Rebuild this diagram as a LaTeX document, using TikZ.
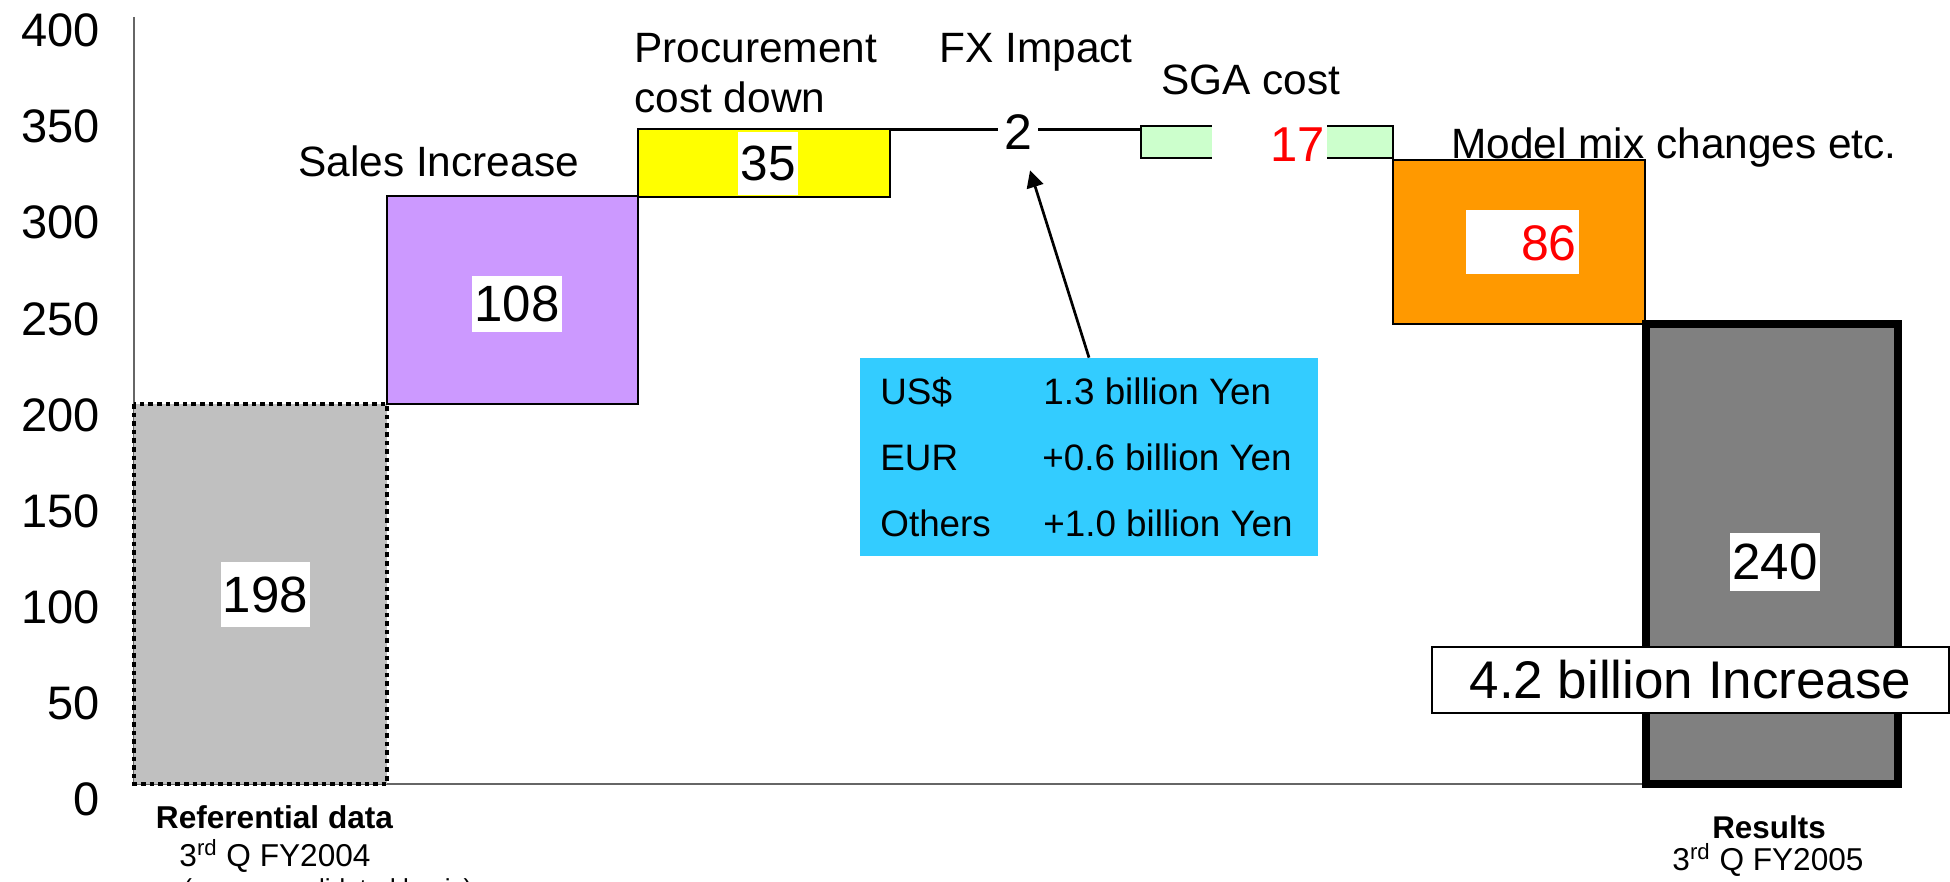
\documentclass[tikz,border=0pt]{standalone}
\usepackage{fontspec}
\setmainfont{Liberation Sans}
\usetikzlibrary{arrows.meta}

\definecolor{refgray}{HTML}{C0C0C0}
\definecolor{salescol}{HTML}{CC99FF}
\definecolor{procol}{HTML}{FFFF00}
\definecolor{sgacol}{HTML}{CCFFCC}
\definecolor{mixcol}{HTML}{FF9900}
\definecolor{resgray}{HTML}{808080}
\definecolor{fxcol}{HTML}{33CCFF}
\definecolor{axiscol}{HTML}{666666}

\tikzset{
  ticklabel/.style={anchor=east, inner sep=0pt, font=\fontsize{23.5}{28}\selectfont},
  caption/.style={anchor=base west, inner sep=0pt, font=\fontsize{21.2}{25}\selectfont},
  vallabel/.style={fill=white, inner xsep=1pt, inner ysep=0pt, font=\fontsize{25.5}{30}\selectfont},
  fxrow/.style={anchor=base west, inner sep=0pt, font=\fontsize{18.4}{22}\selectfont},
  foot/.style={anchor=base, inner sep=0pt, font=\fontsize{15.8}{19}\selectfont},
  barline/.style={draw=black, line width=1pt},
}

\begin{document}
\begin{tikzpicture}[x=0.5pt, y=-0.5pt]
\useasboundingbox (0,0) rectangle (1950,882);

% axes
\draw[axiscol, line width=0.7pt] (134,17) -- (134,784) -- (1646,784);
\foreach \v in {0,50,...,400}
  \node[ticklabel] (tick\v) at (100,{799.5-1.9225*\v}) {\v};

% category captions
\node[caption] (capsales) at (298,177) {Sales Increase};
\node[caption] (capproc1) at (634,63) {Procurement};
\node[caption] (capproc2) at (634,113) {cost down};
\node[caption] (capfx) at (939,63) {FX Impact};
\node[caption] (capsga) at (1161,95) {SGA cost};
\node[caption] (capmix) at (1451,159) {Model mix changes etc.};

% waterfall bars
\filldraw[fill=refgray, draw=black, line width=2.3pt, dash pattern=on 2.3pt off 2pt]
  (134,404) rectangle (387,784);
\filldraw[barline, fill=salescol] (387,196) rectangle (638,404);
\filldraw[barline, fill=procol] (638,129.5) rectangle (890,197);
\draw[line width=1.4pt] (890,129.5) -- (1141,129.5);
\filldraw[barline, fill=sgacol] (1141,126) rectangle (1393,158);
\filldraw[barline, fill=mixcol] (1393,160) rectangle (1645,324);
\filldraw[fill=resgray, draw=black, line width=4pt] (1646,324) rectangle (1898,784);

% value labels
\node[vallabel, minimum height=32.5pt] (v198) at (265.5,594.5) {198};
\node[vallabel, minimum height=28pt] (v108) at (517,304) {108};
\node[vallabel, minimum width=30pt, minimum height=31.5pt,
      font=\fontsize{24.75}{29}\selectfont] (v35) at (768,163.5) {35};
\node[fill=white, inner sep=3pt, font=\fontsize{25}{29}\selectfont] (fxval) at (1018,132) {2};
\fill[white] (1212,118) rectangle (1327,166);
\node[anchor=east, inner sep=0pt, text=red, font=\fontsize{24.5}{29}\selectfont] (v17) at (1325,145) {17};
\fill[white] (1466,210) rectangle (1579,274);
\node[anchor=east, inner sep=0pt, text=red, font=\fontsize{25}{29}\selectfont] (v86) at (1577,243) {86};
\node[vallabel, minimum height=29pt] (v240) at (1775,561.5) {240};

% FX breakdown
\node[fill=fxcol, minimum width=229pt, minimum height=99pt, inner sep=0pt] (fxbox) at (1089,457) {};
\node[fxrow] (fxus) at (880,405) {US\$};
\node[fxrow] (fxusv) at (1043,405) {1.3 billion Yen};
\node[fxrow] (fxeur) at (880,470.7) {EUR};
\node[fxrow] (fxeurv) at (1042,470.7) {+0.6 billion Yen};
\node[fxrow] (fxoth) at (880,536.7) {Others};
\node[fxrow] (fxothv) at (1043,536.7) {+1.0 billion Yen};
\draw[-{Triangle[length=8.5pt,width=8.5pt]}, line width=1.35pt, shorten >=7.6pt]
  (fxbox.north) -- (fxval);

% total change
\node[draw=black, fill=white, line width=1pt, minimum width=258.5pt, minimum height=33pt,
      inner sep=0pt, font=\fontsize{26.5}{31}\selectfont] (incr) at (1690.5,680) {4.2 billion Increase};

% period captions
\node[foot, font=\bfseries\fontsize{15.8}{19}\selectfont] (refname) at (274.5,828) {Referential data};
\node[foot] (refq) at (275,866) {3\textsuperscript{rd} Q FY2004};
\node[anchor=base west, inner sep=0pt, font=\fontsize{13}{16}\selectfont] (refnote) at (183,897) {(on a consolidated basis)};
\node[foot, font=\bfseries\fontsize{15.7}{19}\selectfont] (resname) at (1769,838) {Results};
\node[foot] (resq) at (1768,870) {3\textsuperscript{rd} Q FY2005};
\end{tikzpicture}
\end{document}
